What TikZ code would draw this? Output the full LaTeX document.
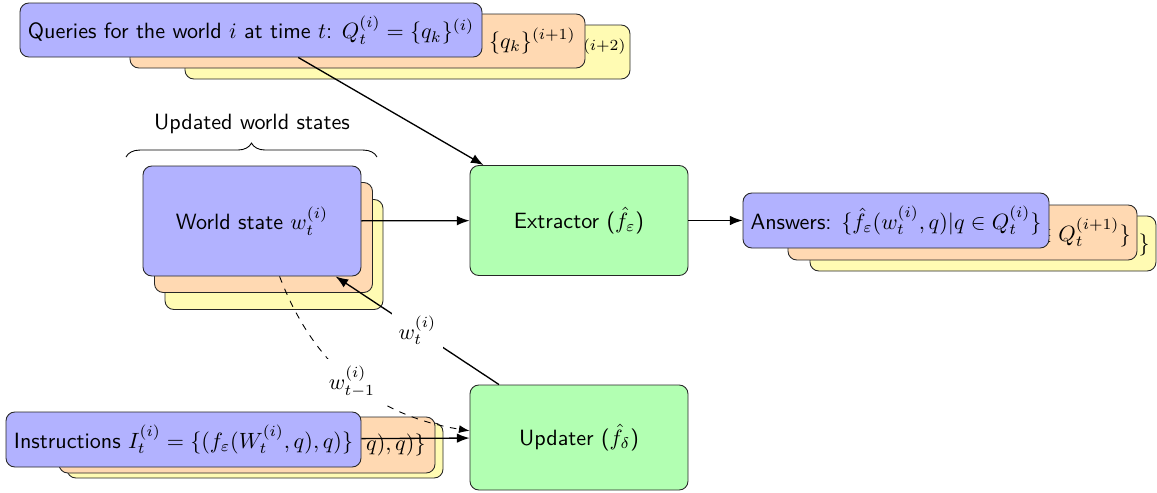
\documentclass[tikz,border=0pt]{standalone}
\usetikzlibrary{arrows.meta,calc,decorations.pathreplacing}
\newdimen\pxu
\pxu=0.4525pt
\begin{document}
\begin{tikzpicture}[x=0.4525pt, y=0.4525pt, font=\sffamily,
  stackbox/.style={draw=black!85, rounded corners=4pt, inner sep=0pt, align=center},
  bluebox/.style={stackbox, fill=blue!30},
  orangebox/.style={stackbox, fill=orange!30},
  yellowbox/.style={stackbox, fill=yellow!30},
  procbox/.style={stackbox, fill=green!30, minimum width=218\pxu, minimum height=110\pxu},
  frag/.style={inner sep=0pt, anchor=east},
  basefrag/.style={inner sep=0pt, anchor=base east},
  link/.style={semithick, -{Latex}},
  tag/.style={fill=white, inner sep=3pt}]
\useasboundingbox (0,0) rectangle (1157,-492);

% query sets for worlds i, i+1, i+2
\node[yellowbox, minimum width=445\pxu, minimum height=54\pxu] (qC) at (407.5,-52) {};
\node[basefrag] (qCt) at (627,-59) {$\vphantom{\}}^{(i+2)}$};
\node[orangebox, minimum width=455\pxu, minimum height=54\pxu] (qB) at (357.5,-41) {};
\node[basefrag] (qBt) at (576,-48) {$\{q_k\}^{(i+1)}$};
\node[bluebox, minimum width=462\pxu, minimum height=54\pxu] (qA) at (251,-30)
  {Queries for the world $i$ at time $t$: $Q_t^{(i)} = \{q_k\}^{(i)}$};

% world states
\node[yellowbox, minimum width=218\pxu, minimum height=110\pxu] (wC) at (274,-254.5) {};
\node[orangebox, minimum width=218\pxu, minimum height=110\pxu] (wB) at (263.5,-237.5) {};
\node[bluebox, minimum width=218\pxu, minimum height=110\pxu] (wA) at (252,-221) {World state $w_t^{(i)}$};

\coordinate (brL) at (126,-157);
\coordinate (brR) at (377,-157);
\draw[decorate, decoration={brace, amplitude=6.3pt}] (brL) -- (brR);
\node (brlabel) at (252,-124) {Updated world states};

% extractor and updater
\node[procbox] (ext) at (579,-220.5) {Extractor ($\hat{f}_\varepsilon$)};
\node[procbox, minimum height=105\pxu] (upd) at (579,-437.5) {Updater ($\hat{f}_\delta$)};

% answers
\node[yellowbox, minimum width=346\pxu, minimum height=55\pxu] (aC) at (983,-243.5) {};
\node[frag] (aCt) at (1150,-245) {$\}$};
\node[orangebox, minimum width=349\pxu, minimum height=55\pxu] (aB) at (962.5,-232.5) {};
\node[frag] (aBt) at (1131,-232.5) {$\in Q_t^{(i+1)}\}$};
\node[bluebox, minimum width=306\pxu, minimum height=55\pxu] (aA) at (896,-220.5)
  {Answers: $\{\hat{f}_\varepsilon(w_t^{(i)}, q) | q \in Q_t^{(i)}\}$};

% instructions
\node[yellowbox, minimum width=376\pxu, minimum height=55\pxu] (iC) at (255,-450.5) {};
\node[orangebox, minimum width=376\pxu, minimum height=56\pxu] (iB) at (247,-445) {};
\node[frag] (iBt) at (426,-445) {$q), q)\}$};
\node[bluebox, minimum width=355\pxu, minimum height=55\pxu] (iA) at (183.5,-439.5)
  {Instructions $I_t^{(i)} = \{(f_\varepsilon(W_t^{(i)}, q), q)\}$};

% data flow
\draw[link] (qA) -- (ext);
\draw[link] (wA) -- (ext);
\draw[link] (ext) -- (aA);
\draw[link] (upd) -- node[tag] {$w_t^{(i)}$} (wA);
\draw[thin, dashed, -{Latex}] (wA) to[bend right=30] node[tag] {$w_{t-1}^{(i)}$} (upd);
\draw[link] (iA) -- (upd);
\end{tikzpicture}
\end{document}
